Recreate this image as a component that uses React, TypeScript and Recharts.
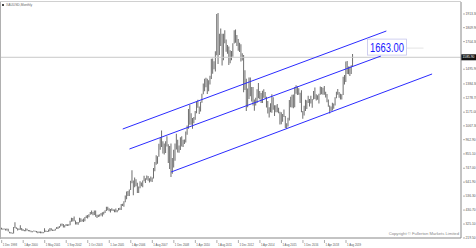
import React from "react";
import {
  ComposedChart,
  Bar,
  Line,
  XAxis,
  YAxis,
  ReferenceLine,
  ReferenceDot,
} from "recharts";

// monthly bars as drawn on the MT4 chart, Dec 1998 .. Jan 2020 (bar index = position)
const highs = [
  297, 292, 292, 290, 292, 289, 267, 264, 260, 302, 338, 301, 293, 292, 316, 296,
  287, 280, 293, 290, 280, 280, 275, 270, 276, 274, 272, 268, 268, 268, 266, 264,
  293, 276, 272, 283, 296, 293, 283, 281, 290, 302, 304, 311, 328, 329, 326, 315,
  326, 324, 323, 349, 373, 370, 383, 352, 340, 341, 373, 369, 360, 367, 378, 390,
  394, 399, 417, 427, 417, 428, 427, 395, 396, 400, 408, 415, 418, 430, 456, 456,
  444, 438, 445, 437, 435, 443, 432, 447, 448, 476, 478, 497, 540, 571, 574, 586,
  653, 732, 655, 677, 664, 637, 608, 649, 640, 655, 690, 671, 693, 689, 671, 684,
  677, 749, 794, 845, 838, 932, 975, 1033, 951, 934, 952, 988, 929, 915, 934, 825,
  887, 935, 1007, 963, 918, 981, 988, 963, 965, 1025, 1071, 1194, 1227, 1162, 1127, 1134,
  1180, 1249, 1265, 1214, 1250, 1310, 1388, 1424, 1431, 1424, 1412, 1447, 1575, 1577, 1556, 1632,
  1913, 1921, 1764, 1803, 1764, 1764, 1791, 1720, 1678, 1667, 1640, 1633, 1692, 1790, 1796, 1755,
  1724, 1695, 1685, 1617, 1604, 1488, 1424, 1349, 1434, 1434, 1362, 1362, 1267, 1280, 1345, 1392,
  1331, 1315, 1332, 1345, 1323, 1287, 1255, 1208, 1239, 1307, 1283, 1224, 1224, 1232, 1204, 1175,
  1170, 1157, 1191, 1142, 1088, 1128, 1263, 1287, 1303, 1304, 1362, 1375, 1367, 1352, 1318, 1337,
  1180, 1220, 1264, 1261, 1295, 1270, 1296, 1270, 1331, 1357, 1306, 1299, 1310, 1366, 1361, 1356,
  1369, 1326, 1309, 1266, 1221, 1214, 1243, 1237, 1284, 1326, 1347, 1324, 1310, 1306, 1439, 1452,
  1555, 1557, 1517, 1516, 1525, 1611,
];
const lows = [
  283, 282, 284, 277, 277, 268, 256, 253, 251, 254, 295, 288, 276, 280, 282, 276,
  273, 270, 270, 276, 270, 268, 263, 263, 268, 266, 262, 255, 258, 256, 255, 256,
  263, 265, 264, 266, 271, 277, 272, 272, 277, 287, 288, 295, 307, 313, 298, 299,
  310, 311, 312, 316, 342, 345, 346, 321, 322, 320, 337, 341, 344, 340, 347, 370,
  367, 377, 396, 399, 391, 393, 381, 371, 378, 383, 389, 383, 397, 409, 424, 430,
  421, 412, 425, 423, 414, 414, 414, 427, 432, 432, 461, 456, 489, 513, 537, 537,
  583, 633, 543, 604, 611, 560, 560, 595, 610, 604, 648, 636, 660, 653, 640, 647,
  642, 669, 725, 774, 780, 834, 887, 908, 859, 850, 862, 911, 786, 741, 681, 705,
  753, 803, 889, 866, 865, 885, 912, 908, 931, 942, 1000, 1045, 1075, 1075, 1045, 1087,
  1114, 1163, 1204, 1157, 1176, 1243, 1307, 1330, 1360, 1309, 1329, 1381, 1421, 1462, 1496, 1478,
  1601, 1535, 1603, 1671, 1523, 1564, 1693, 1627, 1613, 1527, 1541, 1564, 1590, 1690, 1695, 1672,
  1636, 1626, 1555, 1561, 1321, 1339, 1180, 1208, 1271, 1291, 1251, 1221, 1182, 1221, 1240, 1277,
  1268, 1240, 1240, 1280, 1273, 1206, 1160, 1131, 1170, 1167, 1190, 1142, 1170, 1170, 1162, 1077,
  1080, 1098, 1135, 1052, 1046, 1062, 1108, 1208, 1207, 1200, 1208, 1310, 1301, 1302, 1241, 1171,
  1122, 1146, 1180, 1194, 1241, 1214, 1236, 1204, 1267, 1271, 1260, 1264, 1236, 1302, 1307, 1303,
  1302, 1281, 1246, 1211, 1160, 1180, 1183, 1196, 1221, 1276, 1303, 1280, 1266, 1266, 1301, 1381,
  1400, 1459, 1458, 1445, 1459, 1517,
];

// channel lines: [bar, price] at both ends
const upperChannel = [[90, 1043.7], [286, 1784.7]];
const middleChannel = [[95, 892.4], [282, 1595.7]];
const lowerChannel = [[126, 718.5], [320, 1459.6]];

const bidPrice = 1585.9;
const targetPrice = 1663.0;
const targetBar = 272;

const xTickBars = [0, 16, 32, 48, 64, 80, 96, 112, 128, 144, 160, 176, 192, 208, 224, 240, 256];
const xTickLabels = [
  "1 Dec 1998", "1 Apr 2000", "1 May 2001", "1 Sep 2002", "1 Oct 2003", "1 Jan 2005",
  "1 Apr 2006", "1 Aug 2007", "1 Dec 2008", "1 Apr 2010", "1 Aug 2011", "1 Dec 2012",
  "1 Apr 2014", "1 Aug 2015", "1 Dec 2016", "1 Apr 2018", "1 Aug 2019",
];
const yTicks = [
  219.5, 325.1, 430.7, 536.3, 641.9, 747.0, 855.1, 962.9, 1067.3, 1171.0, 1278.7,
  1384.3, 1495.9, 1704.3, 1809.9, 1913.3,
];

const TOTAL_BARS = 342;
const FONT = "'Liberation Sans', Arial, sans-serif";

function chanValue(ch: number[][], i: number) {
  if (i === ch[0][0]) return ch[0][1];
  if (i === ch[1][0]) return ch[1][1];
  return null;
}

const data = Array.from({ length: TOTAL_BARS }, (_, i) => ({
  i,
  hl: i < highs.length ? [lows[i], highs[i]] : null,
  upper: chanValue(upperChannel, i),
  middle: chanValue(middleChannel, i),
  lower: chanValue(lowerChannel, i),
}));

function XTick(props: any) {
  const { x, y, payload } = props;
  const idx = xTickBars.indexOf(payload.value);
  return (
    <g>
      <line x1={x} y1={y} x2={x} y2={y + 3} stroke="#777" strokeWidth={0.6} />
      <text x={x + 1} y={y + 6} fontSize={2.8} fill="#555" fontFamily={FONT}>
        {idx >= 0 ? xTickLabels[idx] : ""}
      </text>
    </g>
  );
}

function YTick(props: any) {
  const { x, y, payload } = props;
  return (
    <g>
      <line x1={x} y1={y} x2={x + 2} y2={y} stroke="#777" strokeWidth={0.6} />
      <text x={x + 2.5} y={y + 1.2} fontSize={3.3} fill="#555" fontFamily={FONT}>
        {Number(payload.value).toFixed(2)}
      </text>
    </g>
  );
}

function BidTag(props: any) {
  const vb = props.viewBox || {};
  const x = vb.x + vb.width;
  const y = vb.y;
  return (
    <g>
      <rect x={x} y={y - 3} width={15} height={6} fill="#111" />
      <text x={x + 1.5} y={y + 1.2} fontSize={3.3} fill="#fff" fontFamily={FONT}>
        {bidPrice.toFixed(2)}
      </text>
    </g>
  );
}

function TargetLabel(props: any) {
  const { cx, cy } = props;
  return (
    <g>
      <line x1={cx + 39} y1={cy + 1} x2={cx + 56} y2={cy + 1} stroke="#e4e4e4" strokeWidth={1} />
      <rect x={cx} y={cy - 8} width={39} height={16} fill="#fff" stroke="#c4c4ec" strokeWidth={0.8} />
      <text
        x={cx + 2.5}
        y={cy + 5}
        fontSize={13}
        fill="#1a1aff"
        fontFamily={FONT}
        textLength={34}
        lengthAdjust="spacingAndGlyphs"
      >
        {targetPrice.toFixed(2)}
      </text>
    </g>
  );
}

export default function App() {
  return (
    <div style={{ position: "relative", width: 476, height: 248, background: "#fff" }}>
      <style>{"body{margin:0}"}</style>
      <ComposedChart
        width={476}
        height={248}
        data={data}
        margin={{ top: 2, right: 0, left: 1, bottom: 0 }}
        barCategoryGap={0}
      >
        <XAxis
          dataKey="i"
          type="category"
          ticks={xTickBars}
          interval={0}
          height={10}
          tickLine={false}
          tickSize={0}
          tick={<XTick />}
          stroke="#888"
        />
        <YAxis
          type="number"
          orientation="right"
          domain={[219.5, 2004]}
          ticks={yTicks}
          interval={0}
          width={15}
          tickLine={false}
          tickSize={0}
          tick={<YTick />}
          stroke="#888"
          allowDataOverflow
        />
        <ReferenceLine y={bidPrice} stroke="#c8c8c8" strokeWidth={1} label={<BidTag />} />
        <Bar dataKey="hl" barSize={1} fill="#6e6e6e" isAnimationActive={false} />
        <Line
          dataKey="upper"
          stroke="#2b2bff"
          strokeWidth={1}
          dot={false}
          connectNulls
          isAnimationActive={false}
        />
        <Line
          dataKey="middle"
          stroke="#2b2bff"
          strokeWidth={1}
          dot={false}
          connectNulls
          isAnimationActive={false}
        />
        <Line
          dataKey="lower"
          stroke="#2b2bff"
          strokeWidth={1}
          dot={false}
          connectNulls
          isAnimationActive={false}
        />
        <ReferenceDot x={targetBar} y={targetPrice} shape={<TargetLabel />} />
      </ComposedChart>
      {/* chart frame + title + watermark */}
      <div style={{ position: "absolute", left: 0, top: 1, width: 1, height: 238, background: "#b0b0b0" }} />
      <div style={{ position: "absolute", left: 0, top: 1, width: 461, height: 1, background: "#d0d0d0" }} />
      <div style={{ position: "absolute", left: 2, top: 4, width: 2, height: 2, background: "#444" }} />
      <div
        style={{
          position: "absolute",
          left: 6,
          top: 3,
          fontSize: 3.3,
          lineHeight: "4px",
          color: "#666",
          fontFamily: FONT,
          whiteSpace: "nowrap",
        }}
      >
        XAUUSD,Monthly
      </div>
      <div
        style={{
          position: "absolute",
          right: 17,
          top: 231,
          fontSize: 4.2,
          lineHeight: "5px",
          color: "#888",
          fontFamily: FONT,
          whiteSpace: "nowrap",
        }}
      >
        Copyright © Fullerton Markets Limited
      </div>
    </div>
  );
}
